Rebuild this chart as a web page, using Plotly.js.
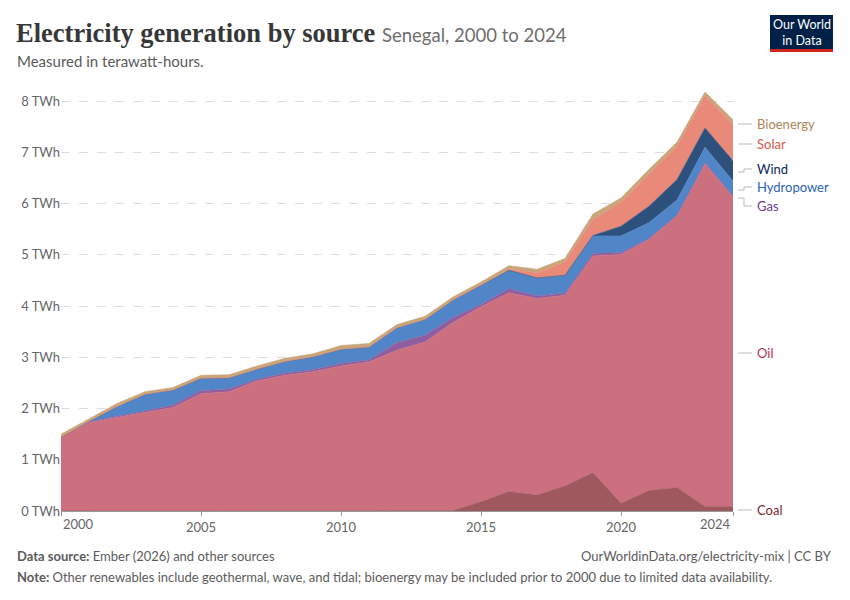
<!DOCTYPE html>
<html>
<head>
<meta charset="utf-8">
<script src="https://cdn.plot.ly/plotly-3.0.1.min.js"></script>
<style>html,body{margin:0;padding:0;background:#fff;}#chart{width:850px;height:600px;}</style>
</head>
<body>
<div id="chart"></div>
<script>
// ---- Data (TWh) ----
const years = [2000,2001,2002,2003,2004,2005,2006,2007,2008,2009,2010,2011,2012,2013,2014,2015,2016,2017,2018,2019,2020,2021,2022,2023,2024];
const coal  = [0,0,0,0,0,0,0,0,0,0,0,0,0,0,0.01,0.18,0.38,0.31,0.49,0.75,0.15,0.40,0.46,0.09,0.09];
const oil   = [1.44,1.73,1.83,1.92,2.02,2.29,2.33,2.54,2.65,2.72,2.83,2.91,3.14,3.30,3.67,3.81,3.88,3.84,3.72,4.23,4.86,4.90,5.30,6.69,6.04];
const gas   = [0,0.01,0.02,0.03,0.05,0.06,0.05,0.03,0.04,0.04,0.05,0.04,0.15,0.13,0.10,0.04,0.08,0.05,0.04,0.05,0.03,0.02,0.02,0.02,0.02];
const hydro = [0,0.01,0.19,0.33,0.29,0.24,0.22,0.20,0.23,0.25,0.28,0.25,0.29,0.31,0.34,0.38,0.36,0.35,0.35,0.34,0.33,0.31,0.29,0.30,0.29];
const wind  = [0,0,0,0,0,0,0,0,0,0,0,0,0,0,0,0,0,0,0,0.01,0.19,0.32,0.40,0.38,0.40];
const solar = [0,0,0,0,0,0,0,0,0,0,0,0,0,0,0,0,0.02,0.10,0.26,0.31,0.47,0.62,0.65,0.63,0.70];
const bio   = [0.06,0.05,0.06,0.05,0.05,0.06,0.06,0.06,0.06,0.06,0.07,0.07,0.06,0.06,0.06,0.06,0.07,0.07,0.07,0.11,0.08,0.10,0.08,0.07,0.10];

const seriesNames  = ["Coal","Oil","Gas","Hydropower","Wind","Solar","Bioenergy"];
const seriesValues = [coal, oil, gas, hydro, wind, solar, bio];
const fillColors   = ["#a0585f","#cc7080","#8e5ea0","#5086c8","#2e507d","#e8897a","#c8a57a"];
const labelColors  = ["#7d1f2f","#b3344f","#6c3d91","#2a62b8","#0b2a5c","#d9574b","#ad8558"];
const xTickVals = [2000,2005,2010,2015,2020,2024];
const yTickVals = [0,1,2,3,4,5,6,7,8];
const yTickText = yTickVals.map(v => v + ' TWh');

// ---- Layout geometry helpers (pixel -> paper) ----
const L = 61, R = 733, T = 91, B = 511;
const W = R - L, H = B - T;
const px = x => (x - L) / W;
const py = y => (B - y) / H;

const traces = seriesNames.map((name, i) => ({
  x: years, y: seriesValues[i], name: name,
  type: 'scatter', mode: 'lines', stackgroup: 'one',
  fillcolor: fillColors[i],
  line: {color: fillColors[i], width: 0.6},
  hoverinfo: 'x+y+name'
}));

// right-hand series labels (pixel y positions of label text)
const labelY = {Coal:510, Oil:353, Gas:206, Hydropower:187, Wind:169, Solar:144, Bioenergy:124};
const connectorStartY = {Coal:510, Oil:353, Gas:198, Hydropower:190, Wind:172, Solar:144, Bioenergy:124};

const annotations = [];
const shapes = [];
seriesNames.forEach((name, i) => {
  annotations.push({
    xref:'paper', yref:'paper', x: px(755), y: py(labelY[name]),
    xanchor:'left', yanchor:'middle', showarrow:false,
    text: name, font:{family:'Lato', size:13, color: labelColors[i]}
  });
  const y0 = connectorStartY[name], y1 = labelY[name];
  let path;
  if (y0 === y1) {
    path = `M ${px(738)} ${py(y0)} L ${px(752)} ${py(y1)}`;
  } else {
    path = `M ${px(738)} ${py(y0)} L ${px(744)} ${py(y0)} L ${px(744)} ${py(y1)} L ${px(752)} ${py(y1)}`;
  }
  shapes.push({type:'path', xref:'paper', yref:'paper', path: path,
    line:{color:'#bbbbbb', width:1}});
});

// edge x tick labels (aligned inside like the reference)
annotations.push({xref:'x', yref:'paper', x:2000, y:py(524), xanchor:'left', yanchor:'middle',
  showarrow:false, text:'2000', font:{family:'Lato', size:13, color:'#666'}});
annotations.push({xref:'x', yref:'paper', x:2024, y:py(524), xanchor:'right', yanchor:'middle',
  showarrow:false, text:'2024', font:{family:'Lato', size:13, color:'#666'}});

// subtitle, footer
annotations.push({xref:'paper', yref:'paper', x:px(15), y:py(61), xanchor:'left', yanchor:'middle',
  showarrow:false, text:'Measured in terawatt-hours.', font:{family:'Lato', size:15, color:'#5b5b5b'}});
annotations.push({xref:'paper', yref:'paper', x:px(15), y:py(556), xanchor:'left', yanchor:'middle',
  showarrow:false, text:'<b>Data source:</b> Ember (2026) and other sources', font:{family:'Lato', size:13, color:'#5b5b5b'}});
annotations.push({xref:'paper', yref:'paper', x:px(834), y:py(556), xanchor:'right', yanchor:'middle',
  showarrow:false, text:'OurWorldinData.org/electricity-mix | CC BY', font:{family:'Lato', size:13, color:'#5b5b5b'}});
annotations.push({xref:'paper', yref:'paper', x:px(15), y:py(577), xanchor:'left', yanchor:'middle',
  showarrow:false, text:'<b>Note:</b> Other renewables include geothermal, wave, and tidal; bioenergy may be included prior to 2000 due to limited data availability.',
  font:{family:'Lato', size:13, color:'#5b5b5b'}});

// logo
shapes.push({type:'rect', xref:'paper', yref:'paper', x0:px(770), x1:px(833), y0:py(49), y1:py(15),
  fillcolor:'#002147', line:{width:0}});
shapes.push({type:'rect', xref:'paper', yref:'paper', x0:px(770), x1:px(833), y0:py(52), y1:py(49),
  fillcolor:'#ce261e', line:{width:0}});
annotations.push({xref:'paper', yref:'paper', x:px(801.5), y:py(32), xanchor:'center', yanchor:'middle',
  showarrow:false, text:'Our World<br>in Data', align:'center',
  font:{family:'Lato', size:12.5, color:'#ffffff'}});

const layout = {
  width: 850, height: 600,
  margin: {l: L, r: 850 - R, t: T, b: 600 - B, pad: 0},
  paper_bgcolor: '#ffffff', plot_bgcolor: '#ffffff',
  font: {family: 'Lato', color: '#666'},
  showlegend: false,
  title: {
    text: '<b>Electricity generation by source</b> <span style="font-family:Lato;font-size:18.5px;color:#6e6e6e;font-weight:normal">Senegal, 2000 to 2024</span>',
    font: {family: 'Liberation Serif', size: 26.5, color: '#373737'},
    x: 16/850, xanchor: 'left', xref: 'container',
    y: 1 - 33/600, yanchor: 'middle', yref: 'container'
  },
  xaxis: {
    range: [2000, 2024], tickvals: xTickVals,
    ticktext: ['', '2005', '2010', '2015', '2020', ''],
    showgrid: false, zeroline: false,
    showline: true, linecolor: '#999', linewidth: 1,
    ticks: 'outside', ticklen: 4, tickcolor: '#999',
    tickfont: {family: 'Lato', size: 13, color: '#666'}
  },
  yaxis: {
    range: [0, 8.2], tickvals: yTickVals, ticktext: yTickText,
    showgrid: true, gridcolor: '#dddddd', griddash: 'dash', gridwidth: 1,
    zeroline: false, showline: false, ticks: '',
    tickfont: {family: 'Lato', size: 13, color: '#666'}
  },
  annotations: annotations,
  shapes: shapes
};

Plotly.newPlot('chart', traces, layout, {displayModeBar: false, staticPlot: true});
</script>
</body>
</html>
